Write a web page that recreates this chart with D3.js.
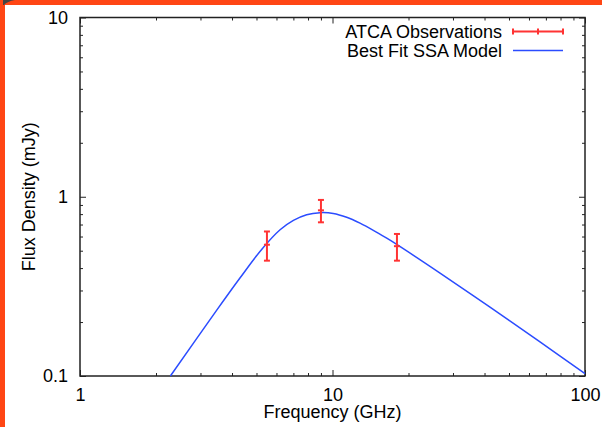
<!DOCTYPE html>
<html>
<head>
<meta charset="utf-8">
<script src="https://cdn.jsdelivr.net/npm/d3@7/dist/d3.min.js"></script>
<style>
  body { margin: 0; background: #fff; }
  text { font-family: "Liberation Sans", Arial, Helvetica, sans-serif; }
</style>
</head>
<body>
<div id="chart"></div>
<script>
// observed points (GHz, mJy) with 1-sigma errors
var obsFreq = [5.5, 9.0, 18.0];
var obsFlux = [0.54, 0.84, 0.53];
var obsErr = [0.10, 0.12, 0.09];

// best fit model curve
var modelFreq = [2.28, 3.48, 4.30, 5.24, 6.20, 7.00, 7.90, 8.92, 10.07, 11.38, 12.85, 14.51, 16.40, 17.96, 26.66, 42.05, 66.34, 100];
var modelFlux = [0.100, 0.233, 0.352, 0.508, 0.654, 0.738, 0.794, 0.815, 0.807, 0.768, 0.712, 0.650, 0.587, 0.542, 0.375, 0.242, 0.155, 0.1032];

// axis ticks
var xMajor = [1, 10, 100];
var xMinor = [2, 3, 4, 5, 6, 7, 8, 9, 20, 30, 40, 50, 60, 70, 80, 90];
var yMajor = [0.1, 1, 10];
var yMinor = [0.2, 0.3, 0.4, 0.5, 0.6, 0.7, 0.8, 0.9, 2, 3, 4, 5, 6, 7, 8, 9];

var legendLabels = ["ATCA Observations", "Best Fit SSA Model"];

var W = 602, H = 427;
// plot box (window.top is reserved, so use a margin object)
var box = { left: 80, right: 585, top: 17.5, bottom: 376 };
var axisColor = "#222", red = "#ff3333", blue = "#2b4cff";

var svg = d3.select("#chart")
  .append("svg")
  .attr("width", W)
  .attr("height", H);

// orange page border (top + left)
svg.append("rect").attr("x", 0).attr("y", 0).attr("width", W).attr("height", 5).attr("fill", "#ff4614");
svg.append("rect").attr("x", 0).attr("y", 0).attr("width", 5).attr("height", H).attr("fill", "#ff4614");
svg.append("path").attr("d", "M3,0 H15 C10,1 6,2.5 4,5 H3 Z").attr("fill", "#444");

var x = d3.scaleLog().domain([1, 100]).range([box.left, box.right]);
var y = d3.scaleLog().domain([0.1, 10]).range([box.bottom, box.top]);

// helper: draw inward ticks, strip domain line
function ticks(axis, tx, ty) {
  var g = svg.append("g")
    .attr("transform", "translate(" + tx + "," + ty + ")")
    .style("font-size", "18px")
    .call(axis);
  g.select(".domain").remove();
  g.selectAll(".tick line").attr("stroke", axisColor);
  g.selectAll("text").attr("fill", "#000").style("font-family", "'Liberation Sans', Arial, sans-serif");
  return g;
}

// X axis bottom (labels) and top (mirror)
ticks(d3.axisBottom(x).tickValues(xMajor).tickSize(-6).tickPadding(12).tickFormat(d3.format("")), 0, box.bottom);
ticks(d3.axisBottom(x).tickValues(xMinor).tickSize(-3).tickFormat(""), 0, box.bottom);
ticks(d3.axisTop(x).tickValues(xMajor).tickSize(-6).tickFormat(""), 0, box.top);
ticks(d3.axisTop(x).tickValues(xMinor).tickSize(-3).tickFormat(""), 0, box.top);

// Y axis left (labels) and right (mirror)
ticks(d3.axisLeft(y).tickValues(yMajor).tickSize(-6).tickPadding(12).tickFormat(d3.format("")), box.left, 0);
ticks(d3.axisLeft(y).tickValues(yMinor).tickSize(-3).tickFormat(""), box.left, 0);
ticks(d3.axisRight(y).tickValues(yMajor).tickSize(-6).tickFormat(""), box.right, 0);
ticks(d3.axisRight(y).tickValues(yMinor).tickSize(-3).tickFormat(""), box.right, 0);

// frame
svg.append("rect")
  .attr("x", box.left).attr("y", box.top)
  .attr("width", box.right - box.left).attr("height", box.bottom - box.top)
  .attr("fill", "none")
  .attr("stroke", axisColor)
  .attr("stroke-width", 1.5);

// axis titles
svg.append("text")
  .attr("x", (box.left + box.right) / 2).attr("y", 418)
  .attr("text-anchor", "middle")
  .style("font-size", "18px")
  .text("Frequency (GHz)");
svg.append("text")
  .attr("transform", "translate(35," + ((box.top + box.bottom) / 2) + ") rotate(-90)")
  .attr("text-anchor", "middle")
  .style("font-size", "18px")
  .text("Flux Density (mJy)");

// model curve
var model = modelFreq.map(function (f, i) { return { f: f, s: modelFlux[i] }; });
var line = d3.line()
  .x(function (d) { return x(d.f); })
  .y(function (d) { return y(d.s); })
  .curve(d3.curveCatmullRom.alpha(0.5));
svg.append("path")
  .datum(model)
  .attr("d", line)
  .attr("fill", "none")
  .attr("stroke", blue)
  .attr("stroke-width", 1.5);

// error bars
var obs = obsFreq.map(function (f, i) { return { f: f, s: obsFlux[i], e: obsErr[i] }; });
var capW = 3;
var eb = svg.append("g")
  .attr("stroke", red)
  .attr("stroke-width", 2)
  .selectAll("g")
  .data(obs)
  .enter().append("g");
eb.append("line")
  .attr("x1", function (d) { return x(d.f); })
  .attr("x2", function (d) { return x(d.f); })
  .attr("y1", function (d) { return y(d.s - d.e); })
  .attr("y2", function (d) { return y(d.s + d.e); });
[-1, 0, 1].forEach(function (k) {
  eb.append("line")
    .attr("x1", function (d) { return x(d.f) - capW; })
    .attr("x2", function (d) { return x(d.f) + capW; })
    .attr("y1", function (d) { return y(d.s + k * d.e); })
    .attr("y2", function (d) { return y(d.s + k * d.e); });
});

// Handmade legend
var lx1 = 513, lx2 = 563;
svg.append("text").attr("x", 502).attr("y", 38).attr("text-anchor", "end").style("font-size", "18px").text(legendLabels[0]);
svg.append("text").attr("x", 502).attr("y", 57).attr("text-anchor", "end").style("font-size", "18px").text(legendLabels[1]);
var lg = svg.append("g").attr("stroke", red).attr("stroke-width", 2);
lg.append("line").attr("x1", lx1).attr("x2", lx2).attr("y1", 31.5).attr("y2", 31.5);
[lx1, (lx1 + lx2) / 2, lx2].forEach(function (px) {
  lg.append("line").attr("x1", px).attr("x2", px).attr("y1", 28.5).attr("y2", 34.5);
});
svg.append("line").attr("x1", lx1).attr("x2", lx2).attr("y1", 50.5).attr("y2", 50.5)
  .attr("stroke", blue).attr("stroke-width", 1.5);
</script>
</body>
</html>
